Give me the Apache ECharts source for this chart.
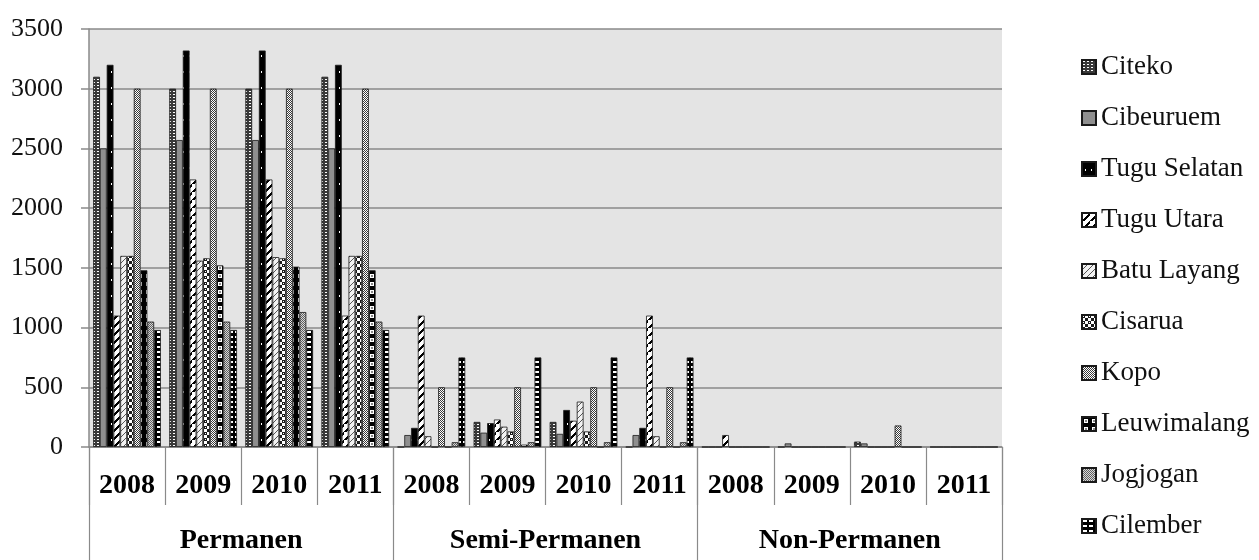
<!DOCTYPE html>
<html>
<head>
<meta charset="utf-8">
<script src="https://cdn.jsdelivr.net/npm/echarts@6/dist/echarts.min.js"></script>
<style>
html,body{margin:0;padding:0;background:#fff;}
#chart{width:1259px;height:560px;}
</style>
</head>
<body>
<div id="chart"></div>
<script>
// ---- data ----
var years = ['2008','2009','2010','2011','2008','2009','2010','2011','2008','2009','2010','2011'];
var groups = ['Permanen','Semi-Permanen','Non-Permanen'];
var yTicks = [0, 500, 1000, 1500, 2000, 2500, 3000, 3500];
var seriesNames = ['Citeko','Cibeuruem','Tugu Selatan','Tugu Utara','Batu Layang','Cisarua','Kopo','Leuwimalang','Jogjogan','Cilember'];
var citeko      = [3100, 3000, 3000, 3100,    0,  210,  210,    0,   0,  0, 45, 0];
var cibeuruem   = [2500, 2570, 2570, 2500,  100,  120,  110,  100,   0, 30, 30, 0];
var tuguSelatan = [3200, 3320, 3320, 3200,  160,  200,  310,  160,   0,  0,  0, 0];
var tuguUtara   = [1100, 2240, 2240, 1100, 1100,  230,  220, 1100, 100,  0,  0, 0];
var batuLayang  = [1600, 1560, 1590, 1600,   90,  170,  380,   90,   0,  0,  0, 0];
var cisarua     = [1600, 1580, 1580, 1600,    0,  130,  130,    0,   0,  0,  0, 0];
var kopo        = [3000, 3000, 3000, 3000,  500,  500,  500,  500,   0,  0,180, 0];
var leuwimalang = [1480, 1520, 1510, 1480,    0,   20,    0,    0,   0,  0,  0, 0];
var jogjogan    = [1050, 1050, 1130, 1050,   40,   40,   40,   40,   0,  0,  0, 0];
var cilember    = [ 980,  980,  980,  980,  750,  750,  750,  750,   0,  0,  0, 0];
var seriesValues = [citeko, cibeuruem, tuguSelatan, tuguUtara, batuLayang, cisarua, kopo, leuwimalang, jogjogan, cilember];

// ---- patterns (styling) ----
function pat(w, h, draw) {
  var c = document.createElement('canvas');
  c.width = w; c.height = h;
  var g = c.getContext('2d');
  draw(g, w, h);
  return {image: c, repeat: 'repeat'};
}
var patterns = [
  pat(4, 3, function(g){ g.fillStyle='#3a3a3a'; g.fillRect(0,0,4,3); g.fillStyle='#fff'; g.fillRect(1,1,2,1); }),
  '#8f8f8f',
  pat(6, 16, function(g){ g.fillStyle='#000'; g.fillRect(0,0,6,16); g.fillStyle='#fff'; g.fillRect(3,7,1,2); }),
  pat(8, 8, function(g){ g.fillStyle='#fff'; g.fillRect(0,0,8,8); g.fillStyle='#000';
      for (var i=0;i<8;i++){ g.fillRect(i, 7-i, 3, 1); } }),
  pat(6, 6, function(g){ g.fillStyle='#f2f2f2'; g.fillRect(0,0,6,6); g.fillStyle='#555';
      for (var i=0;i<3;i++){ g.fillRect(i, 5-i, 1, 1); g.fillRect(i+3, 2-i, 1, 1); } }),
  pat(6, 6, function(g){ g.fillStyle='#fff'; g.fillRect(0,0,6,6); g.fillStyle='#1a1a1a';
      g.fillRect(0,0,3,3); g.fillRect(3,3,3,3); g.fillStyle='#fff'; g.fillRect(1,1,1,1); }),
  pat(2, 2, function(g){ g.fillStyle='#fff'; g.fillRect(0,0,2,2); g.fillStyle='#3a3a3a'; g.fillRect(0,0,1,1); g.fillRect(1,1,1,1); }),
  pat(8, 8, function(g){ g.fillStyle='#000'; g.fillRect(0,0,8,8); g.fillStyle='#fff'; g.fillRect(2,2,4,4);
      g.fillStyle='#888'; g.fillRect(3,3,2,2); }),
  pat(2, 2, function(g){ g.fillStyle='#d8d8d8'; g.fillRect(0,0,2,2); g.fillStyle='#606060'; g.fillRect(0,0,1,1); g.fillRect(1,1,1,1); }),
  pat(6, 5, function(g){ g.fillStyle='#000'; g.fillRect(0,0,6,5); g.fillStyle='#fff'; g.fillRect(1,1,4,2); })
];

var serif = "'Liberation Serif','Times New Roman',serif";
var lineGray = '#8a8a8a';

var series = seriesNames.map(function(name, i){
  return {
    name: name,
    type: 'bar',
    xAxisIndex: 0,
    data: seriesValues[i],
    barGap: '0%',
    barCategoryGap: '11%',
    itemStyle: {color: patterns[i], borderColor: '#1a1a1a', borderWidth: 0.8},
    emphasis: {disabled: true},
    animation: false
  };
});

var chart = echarts.init(document.getElementById('chart'), null, {renderer: 'canvas'});
chart.setOption({
  animation: false,
  backgroundColor: '#ffffff',
  grid: {left: 89, right: 257, top: 29, bottom: 113, show: true, backgroundColor: '#e4e4e4', borderWidth: 0},
  legend: {
    orient: 'vertical', left: 1081, top: 52, padding: 0,
    itemWidth: 14, itemHeight: 14, itemGap: 21,
    icon: 'rect',
    textStyle: {fontFamily: serif, fontSize: 27, color: '#111', lineHeight: 30},
    data: seriesNames
  },
  xAxis: [
    {
      type: 'category', data: years, position: 'bottom',
      axisLine: {show: true, lineStyle: {color: lineGray, width: 1.5}},
      axisTick: {show: true, length: 58, interval: 0, lineStyle: {color: lineGray, width: 1.2}},
      axisLabel: {interval: 0, margin: 25, fontFamily: serif, fontSize: 28, fontWeight: 'bold', color: '#000'},
      splitLine: {show: false}
    },
    {
      type: 'category', data: groups, position: 'bottom',
      axisLine: {show: false},
      axisTick: {show: true, length: 113, interval: 0, lineStyle: {color: lineGray, width: 1.2}},
      axisLabel: {interval: 0, margin: 80, fontFamily: serif, fontSize: 28, fontWeight: 'bold', color: '#000'},
      splitLine: {show: false}
    }
  ],
  yAxis: {
    type: 'value', min: yTicks[0], max: yTicks[yTicks.length-1], interval: yTicks[1]-yTicks[0],
    axisLine: {show: true, lineStyle: {color: lineGray, width: 1.5}},
    axisTick: {show: true, length: 8, lineStyle: {color: lineGray, width: 1.5}},
    axisLabel: {margin: 26, fontFamily: serif, fontSize: 26, color: '#111', formatter: function(v){ return String(v); }},
    splitLine: {show: true, lineStyle: {color: lineGray, width: 1.5}}
  },
  series: series
});
</script>
</body>
</html>
